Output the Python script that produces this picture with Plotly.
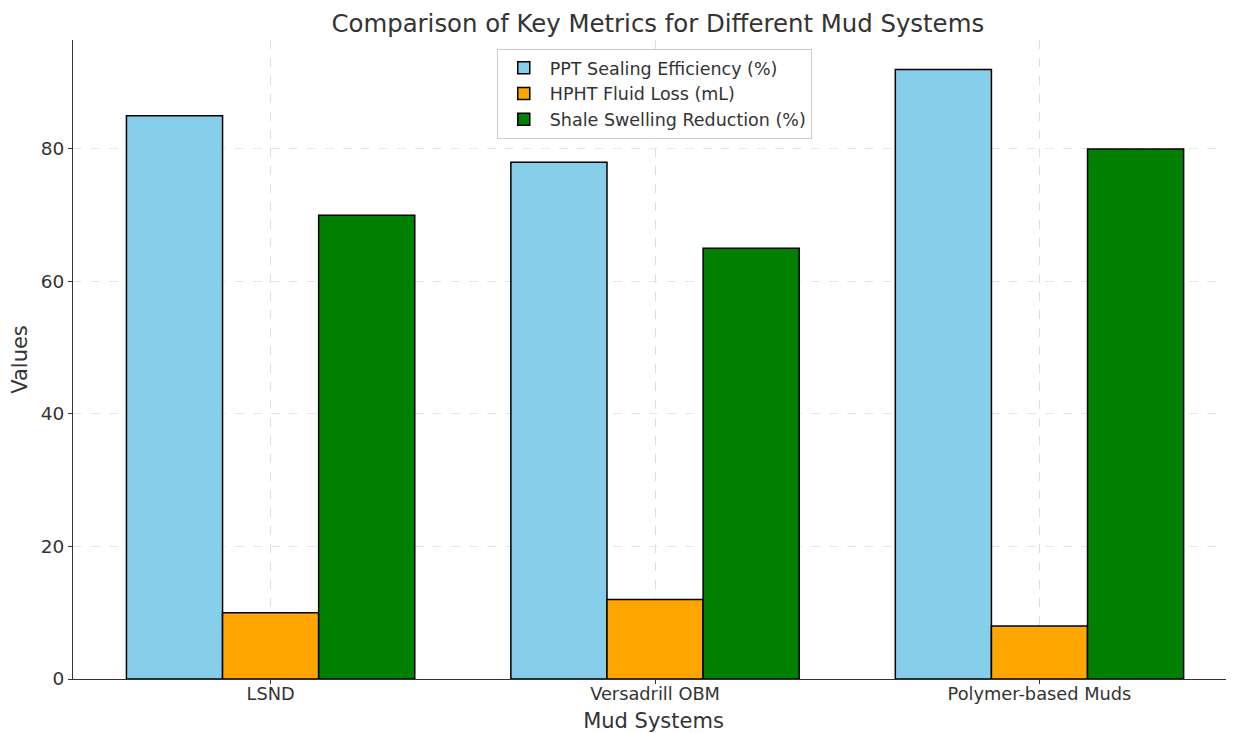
import plotly.graph_objects as go

categories = ["LSND", "Versadrill OBM", "Polymer-based Muds"]
ppt_sealing = [85, 78, 92]
hpht_loss = [10, 12, 8]
shale_reduction = [70, 65, 80]
series_names = ["PPT Sealing Efficiency (%)", "HPHT Fluid Loss (mL)", "Shale Swelling Reduction (%)"]
colors = ["#87CEEB", "#FFA500", "#008000"]

fig = go.Figure()
for name, vals, c in zip(series_names, [ppt_sealing, hpht_loss, shale_reduction], colors):
    fig.add_trace(go.Bar(x=categories, y=vals, name=name, marker=dict(color=c, line=dict(color="black", width=1.5))))

font = "DejaVu Sans, sans-serif"
fig.update_layout(
    width=1226, height=725,
    barmode="group", bargap=0.25, bargroupgap=0,
    plot_bgcolor="white", paper_bgcolor="white",
    margin=dict(l=65, r=0, t=32, b=54, autoexpand=False),
    font=dict(family=font, color="#333333"),
    title=dict(text="Comparison of Key Metrics for Different Mud Systems", x=0.53, xanchor="center", y=0.979, yanchor="middle",
               font=dict(size=24.4, family=font, color="#333333")),
    legend=dict(x=0.365, y=0.986, xanchor="left", yanchor="top", bgcolor="rgba(255,255,255,0.9)",
                bordercolor="#cccccc", borderwidth=1, font=dict(size=17.5, family=font, color="#333333"),
                itemwidth=42, tracegroupgap=2),
    xaxis=dict(title=dict(text="Mud Systems", font=dict(size=21)), range=[-0.514, 2.506], automargin=False,
               showline=True, linecolor="#333333", linewidth=1.2, ticks="outside", ticklen=4, tickcolor="#333333",
               ticklabelstandoff=-5,
               showgrid=True, gridcolor="#dddddd", griddash="dash", gridwidth=1, tickfont=dict(size=17.8)),
    yaxis=dict(title=dict(text="Values", font=dict(size=21)), range=[0, 96.45], tickvals=[0, 20, 40, 60, 80],
               automargin=False,
               showline=True, linecolor="#333333", linewidth=1.2, ticks="outside", ticklen=4, tickcolor="#333333",
               showgrid=True, gridcolor="#e6e6e6", griddash="dash", gridwidth=1, tickfont=dict(size=18.5), zeroline=False),
)
fig.write_html("out.html")
